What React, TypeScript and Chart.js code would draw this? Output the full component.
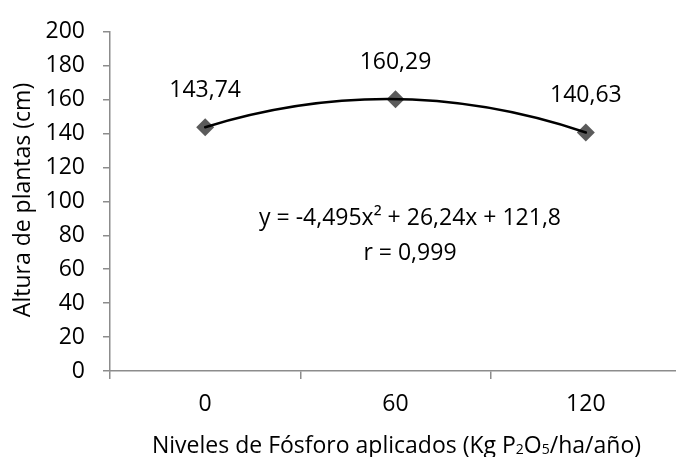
import { useEffect, useRef } from 'react';
import { Chart, registerables } from 'chart.js';

Chart.register(...registerables);

const categories = ['0', '60', '120'];
const alturas = [143.74, 160.29, 140.63];
const yMin = 0;
const yMax = 200;
const yStep = 20;
const yTitle = 'Altura de plantas (cm)';
const xTitleParts: [string, boolean][] = [
  ['Niveles de Fósforo aplicados (Kg P', false],
  ['2', true],
  ['O', false],
  ['5', true],
  ['/ha/año)', false],
];
const equationLines = ['y = -4,495x² + 26,24x + 121,8', 'r = 0,999'];

const FONT = '"Open Sans", Lato, sans-serif';
const FS = 23;
const AXIS = '#8c8c8c';

export default function App() {
  const ref = useRef<HTMLCanvasElement>(null);

  useEffect(() => {
    const canvas = ref.current!;
    const textPlugin = {
      id: 'textPlugin',
      afterDatasetsDraw(chart: any) {
        const c = chart.ctx as CanvasRenderingContext2D;
        const meta = chart.getDatasetMeta(0);
        const pts = meta.data as any[];
        c.save();
        // polynomial trend line through the three markers (quadratic curve)
        if (pts.length === 3) {
          const [p0, p1, p2] = pts;
          const cx = 2 * p1.x - (p0.x + p2.x) / 2;
          const cy = 2 * p1.y - (p0.y + p2.y) / 2;
          c.beginPath();
          c.moveTo(p0.x, p0.y);
          c.quadraticCurveTo(cx, cy, p2.x, p2.y);
          c.strokeStyle = '#000';
          c.lineWidth = 2.5;
          c.lineCap = 'round';
          c.stroke();
        }
        c.fillStyle = '#000';
        c.font = `${FS}px ${FONT}`;
        c.textAlign = 'center';
        c.textBaseline = 'middle';
        pts.forEach((el: any, i: number) => {
          c.fillText(alturas[i].toFixed(2).replace('.', ','), el.x, el.y - 37);
        });
        // equation
        c.fillText(equationLines[0], 410, 218);
        c.fillText(equationLines[1], 410, 253);
        // y title
        c.save();
        c.translate(23, 200);
        c.rotate(-Math.PI / 2);
        c.fillText(yTitle, 0, 0);
        c.restore();
        // x title with small digits
        const small = `${Math.round(FS * 0.62)}px ${FONT}`;
        const normal = `${FS}px ${FONT}`;
        let total = 0;
        xTitleParts.forEach(([t, s]) => {
          c.font = s ? small : normal;
          total += c.measureText(t).width;
        });
        let x = 396.5 - total / 2;
        c.textAlign = 'left';
        c.textBaseline = 'alphabetic';
        const base = 453;
        xTitleParts.forEach(([t, s]) => {
          c.font = s ? small : normal;
          c.fillText(t, x, s ? base + 1 : base);
          x += c.measureText(t).width;
        });
        c.restore();
      },
    };

    const chart = new Chart(canvas, {
      type: 'line',
      data: {
        labels: categories,
        datasets: [
          {
            label: 'Altura',
            data: alturas,
            showLine: false,
            pointStyle: 'rectRot',
            pointRadius: 9,
            pointBackgroundColor: '#5b5b5b',
            pointBorderColor: '#5b5b5b',
            pointBorderWidth: 0,
          },
        ],
      },
      options: {
        responsive: false,
        animation: false,
        devicePixelRatio: 1,
        layout: { padding: { top: 26, right: 19, left: 0, bottom: 0 } },
        plugins: {
          legend: { display: false },
          tooltip: { enabled: false },
        },
        scales: {
          x: {
            type: 'category',
            offset: true,
            grid: {
              offset: true,
              drawOnChartArea: false,
              tickLength: 8,
              color: AXIS,
              lineWidth: 1.5,
            },
            border: { color: AXIS, width: 1.5 },
            ticks: { color: '#000', font: { family: FONT, size: FS }, padding: 12 },
            afterFit(scale: any) {
              scale.height = 86;
            },
          },
          y: {
            min: yMin,
            max: yMax,
            grid: {
              drawOnChartArea: false,
              tickLength: 7,
              color: AXIS,
              lineWidth: 1.5,
            },
            border: { color: AXIS, width: 1.5 },
            ticks: {
              stepSize: yStep,
              color: '#000',
              font: { family: FONT, size: FS },
              padding: 18,
            },
            afterFit(scale: any) {
              scale.width = 110;
            },
          },
        },
      },
      plugins: [textPlugin],
    });
    return () => chart.destroy();
  }, []);

  return (
    <div
      style={{
        position: 'fixed',
        left: 0,
        top: 0,
        width: 676,
        height: 457,
        overflow: 'hidden',
        background: '#fff',
      }}
    >
      <canvas ref={ref} width={700} height={457} style={{ width: 700, height: 457 }} />
    </div>
  );
}
